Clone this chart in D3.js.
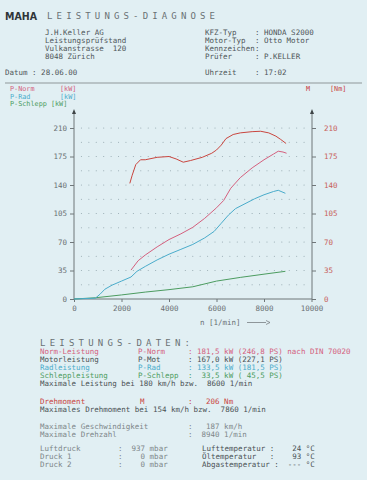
<!DOCTYPE html>
<html>
<head>
<meta charset="utf-8">
<script src="https://cdn.jsdelivr.net/npm/d3@7"></script>
<style>
  body { margin: 0; background: #e1eff3; }
  svg { display: block; }
  text { font-family: "DejaVu Sans Mono", "Liberation Mono", monospace; font-size: 7.5px; }
</style>
</head>
<body>
<div id="chart"></div>
<script>
// values
var rpmNorm = [2400, 2700, 3000, 3500, 4000, 4500, 5000, 5500, 6000, 6300, 6600, 7000, 7500, 8000, 8400, 8600, 8800, 8950];
var pNorm   = [35.5, 47, 54, 64, 73, 80, 88, 99, 112, 121, 136, 149, 161, 171, 178, 181.5, 180.5, 179];

var rpmRad = [0, 900, 1100, 1300, 1600, 2000, 2400, 2650, 3000, 3500, 4000, 4500, 5000, 5500, 5900, 6200, 6500, 6800, 7200, 7600, 8000, 8400, 8600, 8900];
var pRad   = [0, 1, 6, 12, 17, 22, 27, 34, 40, 48, 55, 61, 67, 75, 83, 93, 103, 111, 117, 123, 128, 132, 133.5, 129.8];

var rpmSchlepp = [0, 900, 2000, 3000, 4000, 5000, 6000, 7000, 8000, 8900];
var pSchlepp   = [0, 1.5, 5, 8.5, 11.5, 15, 22, 26.5, 30.5, 34];

var rpmM = [2350, 2450, 2600, 2800, 3000, 3500, 4000, 4300, 4600, 4900, 5400, 5800, 6000, 6200, 6400, 6700, 7000, 7500, 7860, 8200, 8500, 8700, 8930];
var torque = [142, 152, 165, 171, 171, 174, 175, 172, 168, 170, 174, 179, 183, 189, 197, 202, 204, 205.5, 206, 204, 200, 196, 191];

var yTicks = [0, 35, 70, 105, 140, 175, 210];
var xTicks = [0, 2000, 4000, 6000, 8000, 10000];

var W = 367, H = 480;
var cNorm = "#d4607e", cRad = "#4aaccb", cSchlepp = "#4c9c60", cM = "#c9463f";

var svg = d3.select("#chart").append("svg")
    .attr("width", W)
    .attr("height", H);

svg.append("rect").attr("width", W).attr("height", H).attr("fill", "#e1eff3");

var x = d3.scaleLinear().domain([0, 10000]).range([74, 311.5]);
var y = d3.scaleLinear().domain([0, 210]).range([299, 128]);

// ---- header ----
svg.append("text").attr("x", 5).attr("y", 20)
    .attr("textLength", 32).attr("lengthAdjust", "spacingAndGlyphs")
    .style("font-family", "DejaVu Sans").style("font-weight", "bold").style("font-size", "11px")
    .attr("fill", "#2f3538").text("MAHA");
svg.append("text").attr("x", 47).attr("y", 19)
    .attr("textLength", 168).attr("lengthAdjust", "spacing")
    .style("font-size", "9px").attr("fill", "#6a7174").text("LEISTUNGS-DIAGNOSE");

var header = [
  [45, 35, "J.H.Keller AG"], [45, 43, "Leistungsprüfstand"], [45, 51, "Vulkanstrasse  120"], [45, 59, "8048 Zürich"],
  [205, 35, "KFZ-Typ"], [205, 43, "Motor-Typ"], [205, 51, "Kennzeichen"], [205, 59, "Prüfer"],
  [255, 35, ": HONDA S2000"], [255, 43, ": Otto Motor"], [255, 51, ":"], [255, 59, ": P.KELLER"],
  [5, 75, "Datum : 28.06.00"], [205, 75, "Uhrzeit"], [255, 75, ": 17:02"]
];
svg.selectAll(".hdr").data(header).enter().append("text")
    .attr("class", "hdr")
    .attr("x", function(d) { return d[0]; })
    .attr("y", function(d) { return d[1]; })
    .attr("fill", "#4f5659")
    .style("white-space", "pre")
    .text(function(d) { return d[2]; });

svg.append("line").attr("x1", 5).attr("x2", 362).attr("y1", 83).attr("y2", 83)
    .attr("stroke", "#8f9799").attr("stroke-width", 1.2);

// legend
var legend = [
  [10, 91, "P-Norm", cNorm], [60, 91, "[kW]", cNorm],
  [10, 98.5, "P-Rad", cRad], [60, 98.5, "[kW]", cRad],
  [10, 106, "P-Schlepp [kW]", cSchlepp],
  [306, 91, "M", cM], [330, 91, "[Nm]", cM]
];
svg.selectAll(".leg").data(legend).enter().append("text")
    .attr("class", "leg")
    .attr("x", function(d) { return d[0]; })
    .attr("y", function(d) { return d[1]; })
    .attr("fill", function(d) { return d[3]; })
    .style("font-size", "6.8px")
    .text(function(d) { return d[2]; });

// ---- dotted grid ----
var gridRows = d3.range(17.5, 210.1, 17.5);
var gridCols = d3.range(312.5, 9700, 312.5);
var dots = [];
gridRows.forEach(function(r) { gridCols.forEach(function(c) { dots.push([c, r]); }); });
svg.append("g").selectAll("circle").data(dots).enter().append("circle")
    .attr("cx", function(d) { return x(d[0]); })
    .attr("cy", function(d) { return y(d[1]); })
    .attr("r", 0.55)
    .attr("fill", "#93a6ad");

// ---- axes ----
var axisColor = "#6f7679";
var gL = svg.append("g").attr("transform", "translate(74,0)")
    .call(d3.axisLeft(y).tickValues(yTicks).tickSize(4).tickPadding(3).tickFormat(d3.format("d")));
gL.selectAll("text").attr("fill", "#6a7073");
var gR = svg.append("g").attr("transform", "translate(312,0)")
    .call(d3.axisRight(y).tickValues(yTicks).tickSize(4).tickPadding(8).tickFormat(d3.format("d")));
gR.selectAll("text").attr("fill", "#c8605a");
var gX = svg.append("g").attr("transform", "translate(0,299)")
    .call(d3.axisBottom(x).tickValues(xTicks).tickSize(3).tickPadding(4).tickFormat(d3.format("d")));
gX.selectAll("text").attr("fill", "#6a7073");
[gL, gR, gX].forEach(function(g) {
  g.select(".domain").remove();
  g.selectAll("line").attr("stroke", axisColor);
  g.selectAll("text").style("font-family", "DejaVu Sans Mono").style("font-size", "7.5px");
});
// axis lines with arrow tips
svg.append("line").attr("x1", 74).attr("x2", 74).attr("y1", 299).attr("y2", 113).attr("stroke", axisColor);
svg.append("line").attr("x1", 312).attr("x2", 312).attr("y1", 299).attr("y2", 113).attr("stroke", axisColor);
svg.append("line").attr("x1", 74).attr("x2", 312).attr("y1", 299).attr("y2", 299).attr("stroke", axisColor);
[74, 312].forEach(function(ax) {
  svg.append("path").attr("d", "M" + ax + ",109 L" + (ax - 2) + ",114 L" + (ax + 2) + ",114 Z").attr("fill", "#3e4446");
});

svg.append("text").attr("x", 200).attr("y", 325).attr("fill", "#6a7073")
    .style("white-space", "pre").text("n [1/min]");
svg.append("line").attr("x1", 247).attr("x2", 266).attr("y1", 322.5).attr("y2", 322.5).attr("stroke", "#6a7073").attr("stroke-width", 0.7);
svg.append("path").attr("d", "M266,320.5 L270,322.5 L266,324.5").attr("fill", "none").attr("stroke", "#6a7073").attr("stroke-width", 0.7);

// ---- curves ----
function drawCurve(xs, ys, color) {
  var pts = xs.map(function(v, i) { return [v, ys[i]]; });
  svg.append("path").datum(pts)
      .attr("fill", "none")
      .attr("stroke", color)
      .attr("stroke-width", 1)
      .attr("d", d3.line().x(function(d) { return x(d[0]); }).y(function(d) { return y(d[1]); }));
}
drawCurve(rpmSchlepp, pSchlepp, cSchlepp);
drawCurve(rpmRad, pRad, cRad);
drawCurve(rpmNorm, pNorm, cNorm);
drawCurve(rpmM, torque, cM);

// ---- data block ----
svg.append("text").attr("x", 40).attr("y", 346)
    .attr("textLength", 150).attr("lengthAdjust", "spacing")
    .style("font-size", "9px").attr("fill", "#6a7174").text("LEISTUNGS-DATEN:");

var dark = "#4a5154", grey = "#7d8689";
var rows = [
  [40, 354, "Norm-Leistung", cNorm], [138, 354, "P-Norm", cNorm], [188, 354, ": 181,5 kW (246,8 PS) nach DIN 70020", cNorm],
  [40, 362, "Motorleistung", dark], [138, 362, "P-Mot", dark], [188, 362, ": 167,0 kW (227,1 PS)", dark],
  [40, 370, "Radleistung", cRad], [138, 370, "P-Rad", cRad], [188, 370, ": 133,5 kW (181,5 PS)", cRad],
  [40, 378, "Schleppleistung", cSchlepp], [138, 378, "P-Schlepp", cSchlepp], [188, 378, ":  33,5 kW ( 45,5 PS)", cSchlepp],
  [40, 386, "Maximale Leistung bei 180 km/h bzw.  8600 1/min", dark],
  [40, 404, "Drehmoment", cM], [140, 404, "M", cM], [188, 404, ":   206 Nm", cM],
  [40, 412, "Maximales Drehmoment bei 154 km/h bzw.  7860 1/min", dark],
  [40, 429, "Maximale Geschwindigkeit", grey], [188, 429, ":   187 km/h", grey],
  [40, 437, "Maximale Drehzahl", grey], [188, 437, ":  8940 1/min", grey],
  [40, 451, "Luftdruck", grey], [118, 451, ":  937 mbar", grey],
  [40, 459, "Druck 1", grey], [118, 459, ":    0 mbar", grey],
  [40, 467, "Druck 2", grey], [118, 467, ":    0 mbar", grey],
  [202, 451, "Lufttemperatur :    24 °C", dark],
  [202, 459, "Öltemperatur   :    93 °C", dark],
  [202, 467, "Abgastemperatur :  --- °C", dark]
];
svg.selectAll(".row").data(rows).enter().append("text")
    .attr("class", "row")
    .attr("x", function(d) { return d[0]; })
    .attr("y", function(d) { return d[1]; })
    .attr("fill", function(d) { return d[3]; })
    .attr("xml:space", "preserve")
    .style("white-space", "pre")
    .text(function(d) { return d[2]; });
</script>
</body>
</html>
